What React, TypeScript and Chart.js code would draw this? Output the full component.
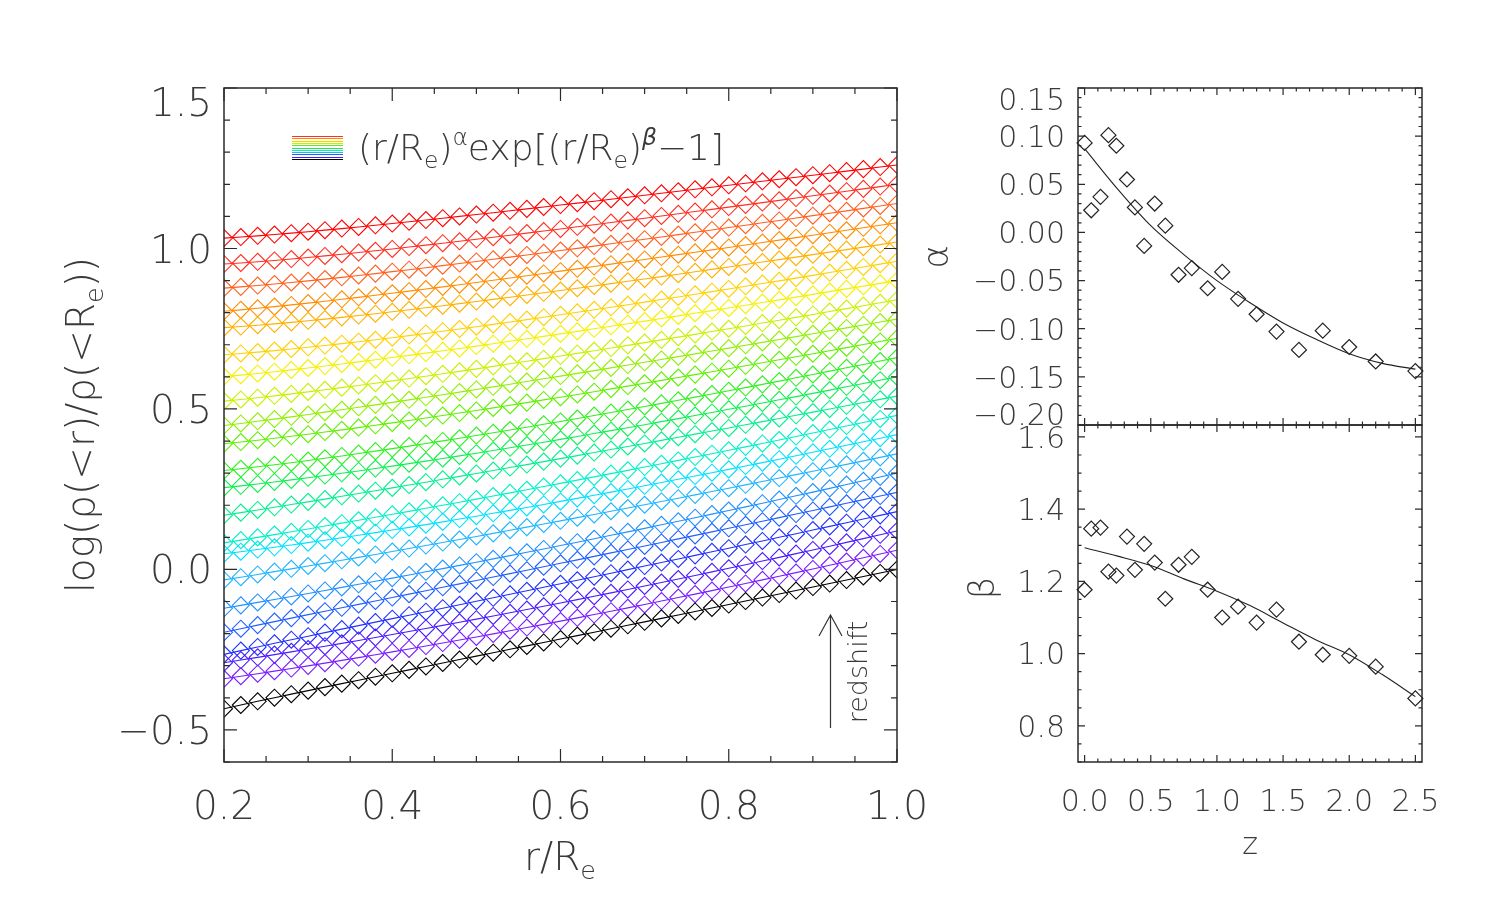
import React, { useEffect, useRef } from "react";
import { Chart, registerables } from "chart.js";

Chart.register(...registerables);

const W = 1495;
const H = 898;
const FONT = "'DejaVu Sans', 'Liberation Sans', sans-serif";
const FONT_WEIGHT = "300";
const TEXT = "#3a3a3a";
const AXIS = "#2a2a2a";

// ---- data ----
const zValues = [0.0, 0.05, 0.12, 0.18, 0.24, 0.32, 0.38, 0.45, 0.53, 0.61, 0.71, 0.81, 0.93, 1.04, 1.16, 1.3, 1.45, 1.62, 1.8, 2.0, 2.2, 2.5];
const alphaValues = [0.093, 0.023, 0.037, 0.101, 0.09, 0.055, 0.026, -0.014, 0.03, 0.007, -0.044, -0.037, -0.058, -0.041, -0.069, -0.085, -0.103, -0.122, -0.102, -0.119, -0.134, -0.144];
const betaValues = [1.177, 1.346, 1.349, 1.227, 1.216, 1.324, 1.232, 1.304, 1.252, 1.152, 1.246, 1.268, 1.177, 1.1, 1.13, 1.086, 1.122, 1.033, 0.997, 0.994, 0.964, 0.876];

const fitZ = [0.0, 0.25, 0.5, 0.75, 1.0, 1.25, 1.5, 1.75, 2.0, 2.25, 2.5];
const alphaFit = [0.087, 0.045, 0.007, -0.023, -0.05, -0.073, -0.094, -0.111, -0.126, -0.136, -0.142];
const betaFit = [1.293, 1.27, 1.244, 1.207, 1.173, 1.133, 1.085, 1.038, 0.997, 0.942, 0.881];

// vertical offsets of the stacked profiles (one per redshift bin)
const profileOffsets = [0.0, 0.06, 0.12, 0.18, 0.24, 0.3, 0.36, 0.42, 0.48, 0.54, 0.6, 0.66, 0.72, 0.78, 0.84, 0.9, 0.96, 1.02, 1.08, 1.14, 1.2, 1.26];
const rGrid = [0.2, 0.22, 0.24, 0.26, 0.28, 0.3, 0.32, 0.34, 0.36, 0.38, 0.4, 0.42, 0.44, 0.46, 0.48, 0.5, 0.52, 0.54, 0.56, 0.58, 0.6, 0.62, 0.64, 0.66, 0.68, 0.7, 0.72, 0.74, 0.76, 0.78, 0.8, 0.82, 0.84, 0.86, 0.88, 0.9, 0.92, 0.94, 0.96, 0.98, 1.0];
const profileColors = [
  "#000000", "#7a1cff", "#4a1aff", "#2030ff", "#1f5fff", "#2090ff", "#20b4ff", "#00e0ff",
  "#00f0c8", "#00f090", "#10f050", "#30f020", "#60f000", "#90f000", "#c8f000", "#f4f000",
  "#ffd000", "#ffb000", "#ff8c00", "#ff6020", "#ff3020", "#ff0000",
];
const legendIdx = [20, 18, 16, 14, 12, 10, 8, 6, 4, 2, 0];

const leftXTicks = [0.2, 0.4, 0.6, 0.8, 1.0];
const leftYTicks = [-0.5, 0.0, 0.5, 1.0, 1.5];
const zTicks = [0.0, 0.5, 1.0, 1.5, 2.0, 2.5];
const alphaTicks = [-0.2, -0.15, -0.1, -0.05, 0.0, 0.05, 0.1, 0.15];
const betaTicks = [0.8, 1.0, 1.2, 1.4, 1.6];

// model in the legend: log10[(r/Re)^a exp((r/Re)^b - 1)]
function legendModel(r: number, a: number, b: number) {
  return a * Math.log10(r) + (Math.pow(r, b) - 1) / Math.LN10;
}

type Part = { t: string; s?: "sub" | "sup"; it?: boolean };

function fmt(v: number, d: number) {
  const s = Math.abs(v).toFixed(d);
  return (v < -1e-9 ? "\u2212" : "") + s;
}

function drawRich(ctx: CanvasRenderingContext2D, parts: Part[], x: number, y: number, size: number, rot: number, align: "center" | "left" = "center") {
  ctx.save();
  ctx.translate(x, y);
  ctx.rotate(rot);
  ctx.fillStyle = TEXT;
  ctx.textBaseline = "alphabetic";
  ctx.textAlign = "left";
  const f = (sz: number, it?: boolean) => `${it ? "italic " : ""}${FONT_WEIGHT} ${sz}px ${FONT}`;
  let total = 0;
  const widths = parts.map((p) => {
    ctx.font = f(p.s ? size * 0.65 : size, p.it);
    const w = ctx.measureText(p.t).width;
    total += w;
    return w;
  });
  let cx = align === "center" ? -total / 2 : 0;
  parts.forEach((p, i) => {
    const sz = p.s ? size * 0.65 : size;
    ctx.font = f(sz, p.it);
    const dy = p.s === "sub" ? size * 0.22 : p.s === "sup" ? -size * 0.42 : 0;
    ctx.fillText(p.t, cx, size * 0.36 + dy);
    cx += widths[i];
  });
  ctx.restore();
}

function stepValues(min: number, max: number, step: number) {
  const out: number[] = [];
  const start = Math.ceil(min / step - 1e-6);
  for (let k = start; k * step <= max + 1e-9; k++) out.push(+(k * step).toFixed(6));
  return out;
}
const isMult = (v: number, s: number) => Math.abs(v / s - Math.round(v / s)) < 1e-4;

type FrameCfg = {
  id: string;
  xMinor: number; xMajor: number; yMinor: number; yMajor: number;
  majLen: number; minLen: number;
  fontSize: number;
  xTicks?: number[]; xDec?: number; xLabelY?: number;
  yTicks: number[]; yDec: number; yLabelGap: number;
  extra?: (ctx: CanvasRenderingContext2D, chart: any) => void;
};

function framePlugin(cfg: FrameCfg) {
  return {
    id: cfg.id,
    afterDraw(chart: any) {
      const ctx: CanvasRenderingContext2D = chart.ctx;
      const a = chart.chartArea;
      const xs = chart.scales.x;
      const ys = chart.scales.y;
      ctx.save();
      ctx.strokeStyle = AXIS;
      ctx.lineWidth = 1.5;
      ctx.strokeRect(a.left, a.top, a.right - a.left, a.bottom - a.top);
      ctx.lineWidth = 1.2;
      ctx.beginPath();
      for (const v of stepValues(xs.min, xs.max, cfg.xMinor)) {
        const px = xs.getPixelForValue(v);
        const L = isMult(v, cfg.xMajor) ? cfg.majLen : cfg.minLen;
        ctx.moveTo(px, a.bottom); ctx.lineTo(px, a.bottom - L);
        ctx.moveTo(px, a.top); ctx.lineTo(px, a.top + L);
      }
      for (const v of stepValues(ys.min, ys.max, cfg.yMinor)) {
        const py = ys.getPixelForValue(v);
        const L = isMult(v, cfg.yMajor) ? cfg.majLen : cfg.minLen;
        ctx.moveTo(a.left, py); ctx.lineTo(a.left + L, py);
        ctx.moveTo(a.right, py); ctx.lineTo(a.right - L, py);
      }
      ctx.stroke();

      ctx.fillStyle = TEXT;
      ctx.font = `${FONT_WEIGHT} ${cfg.fontSize}px ${FONT}`;
      ctx.textBaseline = "alphabetic";
      const half = cfg.fontSize * 0.36;
      ctx.textAlign = "right";
      for (const v of cfg.yTicks) {
        let py = ys.getPixelForValue(v);
        py = Math.min(Math.max(py, a.top + half), a.bottom - half);
        ctx.fillText(fmt(v, cfg.yDec), a.left - cfg.yLabelGap, py + half);
      }
      if (cfg.xTicks) {
        ctx.textAlign = "center";
        for (const v of cfg.xTicks) {
          const px = xs.getPixelForValue(v);
          ctx.fillText(fmt(v, cfg.xDec || 1), px, (cfg.xLabelY || 0) + half);
        }
      }
      if (cfg.extra) cfg.extra(ctx, chart);
      ctx.restore();
    },
  };
}

function baseOptions(pad: { left: number; top: number; right: number; bottom: number }, x: [number, number], y: [number, number]) {
  return {
    animation: false as const,
    responsive: false,
    devicePixelRatio: 1,
    events: [] as any[],
    layout: { padding: pad },
    plugins: { legend: { display: false }, tooltip: { enabled: false }, title: { display: false } },
    scales: {
      x: { type: "linear" as const, min: x[0], max: x[1], display: false },
      y: { type: "linear" as const, min: y[0], max: y[1], display: false },
    },
  };
}

export default function App() {
  const leftRef = useRef<HTMLCanvasElement>(null);
  const alphaRef = useRef<HTMLCanvasElement>(null);
  const betaRef = useRef<HTMLCanvasElement>(null);

  useEffect(() => {
    const charts: Chart[] = [];

    // ---------- left panel ----------
    const leftDatasets = zValues.map((_, i) => ({
      data: rGrid.map((r) => ({ x: r, y: profileOffsets[i] + legendModel(r, alphaValues[i], betaValues[i]) })),
      borderColor: profileColors[i],
      borderWidth: 1.1,
      pointStyle: "rectRot" as const,
      pointRadius: 8.5,
      pointBorderWidth: 1.1,
      pointBorderColor: profileColors[i],
      pointBackgroundColor: "rgba(0,0,0,0)",
      tension: 0,
      clip: 0,
    }));

    const leftExtra = (ctx: CanvasRenderingContext2D) => {
      // legend swatches
      ctx.lineWidth = 1;
      legendIdx.forEach((ci, k) => {
        ctx.strokeStyle = profileColors[ci];
        const yy = Math.round(136 + k * 2.3) + 0.5;
        ctx.beginPath();
        ctx.moveTo(292, yy);
        ctx.lineTo(343, yy);
        ctx.stroke();
      });
      drawRich(ctx, [
        { t: "(r/R" }, { t: "e", s: "sub" }, { t: ")" }, { t: "\u03b1", s: "sup" },
        { t: "exp[(r/R" }, { t: "e", s: "sub" }, { t: ")" }, { t: "\u03b2", s: "sup", it: true }, { t: "\u22121]" },
      ], 358, 147, 36, 0, "left");
      // redshift arrow
      ctx.strokeStyle = "#333";
      ctx.lineWidth = 1.2;
      ctx.beginPath();
      ctx.moveTo(830.5, 728);
      ctx.lineTo(830.5, 615);
      ctx.moveTo(819, 636);
      ctx.lineTo(830.5, 615);
      ctx.lineTo(842, 636);
      ctx.stroke();
      drawRich(ctx, [{ t: "redshift" }], 857, 672, 27, -Math.PI / 2);
      // axis titles
      drawRich(ctx, [{ t: "log(\u03c1(<r)/\u03c1(<R" }, { t: "e", s: "sub" }, { t: "))" }], 80, 425, 39, -Math.PI / 2);
      drawRich(ctx, [{ t: "r/R" }, { t: "e", s: "sub" }], 560, 856, 39, 0);
    };

    if (leftRef.current) {
      charts.push(new Chart(leftRef.current, {
        type: "line",
        data: { datasets: leftDatasets },
        options: baseOptions({ left: 224, top: 88, right: W - 897, bottom: H - 762 }, [0.2, 1.0], [-0.6, 1.5]) as any,
        plugins: [framePlugin({
          id: "leftFrame", xMinor: 0.05, xMajor: 0.2, yMinor: 0.1, yMajor: 0.5, majLen: 13, minLen: 6,
          fontSize: 39, xTicks: leftXTicks, xDec: 1, xLabelY: 805, yTicks: leftYTicks, yDec: 1, yLabelGap: 12,
          extra: leftExtra,
        })],
      }));
    }

    // ---------- alpha panel ----------
    if (alphaRef.current) {
      charts.push(new Chart(alphaRef.current, {
        type: "line",
        data: {
          datasets: [
            {
              data: fitZ.map((z, i) => ({ x: z, y: alphaFit[i] })),
              borderColor: "#222", borderWidth: 1.1, pointRadius: 0, cubicInterpolationMode: "monotone",
            },
            {
              data: zValues.map((z, i) => ({ x: z, y: alphaValues[i] })),
              showLine: false, pointStyle: "rectRot", pointRadius: 7.5, pointBorderWidth: 1.2,
              pointBorderColor: "#222", pointBackgroundColor: "rgba(0,0,0,0)", clip: false,
            },
          ] as any,
        },
        options: baseOptions({ left: 1078, top: 88, right: W - 1422, bottom: H - 425 }, [-0.05, 2.55], [-0.2, 0.15]) as any,
        plugins: [framePlugin({
          id: "alphaFrame", xMinor: 0.1, xMajor: 0.5, yMinor: 0.01, yMajor: 0.05, majLen: 7, minLen: 3.5,
          fontSize: 30, yTicks: alphaTicks, yDec: 2, yLabelGap: 13,
          extra: (ctx) => drawRich(ctx, [{ t: "\u03b1" }], 935, 257, 36, -Math.PI / 2),
        })],
      }));
    }

    // ---------- beta panel ----------
    if (betaRef.current) {
      charts.push(new Chart(betaRef.current, {
        type: "line",
        data: {
          datasets: [
            {
              data: fitZ.map((z, i) => ({ x: z, y: betaFit[i] })),
              borderColor: "#222", borderWidth: 1.1, pointRadius: 0, cubicInterpolationMode: "monotone",
            },
            {
              data: zValues.map((z, i) => ({ x: z, y: betaValues[i] })),
              showLine: false, pointStyle: "rectRot", pointRadius: 7.5, pointBorderWidth: 1.2,
              pointBorderColor: "#222", pointBackgroundColor: "rgba(0,0,0,0)", clip: false,
            },
          ] as any,
        },
        options: baseOptions({ left: 1078, top: 425, right: W - 1422, bottom: H - 762 }, [-0.05, 2.55], [0.7, 1.633]) as any,
        plugins: [framePlugin({
          id: "betaFrame", xMinor: 0.1, xMajor: 0.5, yMinor: 0.05, yMajor: 0.2, majLen: 7, minLen: 3.5,
          fontSize: 30, xTicks: zTicks, xDec: 1, xLabelY: 800, yTicks: betaTicks, yDec: 1, yLabelGap: 13,
          extra: (ctx) => {
            drawRich(ctx, [{ t: "\u03b2" }], 981, 588, 36, -Math.PI / 2);
            drawRich(ctx, [{ t: "z" }], 1250, 843, 30, 0);
          },
        })],
      }));
    }

    return () => charts.forEach((c) => c.destroy());
  }, []);

  const cs: React.CSSProperties = { position: "absolute", left: 0, top: 0, width: W, height: H };
  return (
    <div style={{ position: "fixed", left: 0, top: 0, width: W, height: H, background: "#fff" }}>
      <canvas ref={leftRef} width={W} height={H} style={cs} />
      <canvas ref={alphaRef} width={W} height={H} style={cs} />
      <canvas ref={betaRef} width={W} height={H} style={cs} />
    </div>
  );
}
